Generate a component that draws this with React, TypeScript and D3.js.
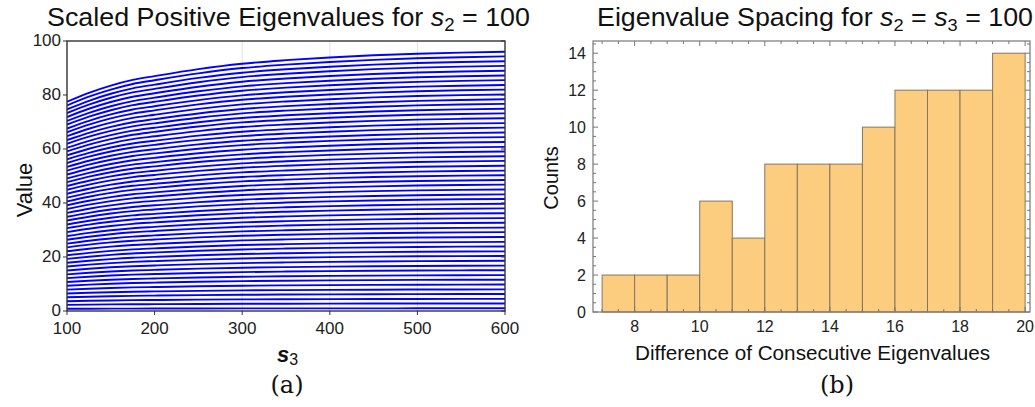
import React from "react";
import * as d3 from "d3";

// ---------- Data ----------
// Panel (a): eigenvalue at s3 = 600 for each curve
const endValues = [
  1.0, 2.8, 4.5, 6.3, 8.0, 9.8, 11.6, 13.3, 15.1, 16.8, 18.6, 20.4, 22.1, 23.9,
  25.6, 27.4, 29.2, 30.9, 32.7, 34.4, 36.2, 38.0, 39.7, 41.5, 43.2, 45.0, 46.8,
  48.5, 50.3, 52.0, 53.8, 55.6, 57.3, 59.1, 60.8, 62.6, 64.4, 66.1, 67.9, 69.6,
  71.4, 73.2, 74.9, 76.7, 78.4, 80.2, 82.0, 83.7, 85.5, 87.2, 89.0, 90.8, 92.5,
  94.3, 96.0,
];
// sampled s3 positions and the top curve read at them (other curves share its shape)
const s3Samples = [100, 125, 150, 175, 200, 250, 300, 350, 400, 450, 500, 550, 600];
const topCurve = [77.5, 80.8, 83.5, 85.6, 87.0, 89.6, 91.6, 92.9, 93.9, 94.7, 95.3, 95.7, 96.0];
const xTicksA = [100, 200, 300, 400, 500, 600];
const yTicksA = [0, 20, 40, 60, 80, 100];

// Panel (b): histogram of spacings
const binStarts = [7, 8, 9, 10, 11, 12, 13, 14, 15, 16, 17, 18, 19];
const binCounts = [2, 2, 2, 6, 4, 8, 8, 8, 10, 12, 12, 12, 14];
const xTicksB = [8, 10, 12, 14, 16, 18, 20];
const yTicksB = [0, 2, 4, 6, 8, 10, 12, 14];

const SANS = "'Liberation Sans', Arial, Helvetica, sans-serif";
const SERIF = "'DejaVu Serif', 'Liberation Serif', serif";

function PanelA() {
  const x = d3.scaleLinear().domain([100, 600]).range([67, 505]);
  const y = d3.scaleLinear().domain([0, 100]).range([311, 41]);
  const topEnd = topCurve[topCurve.length - 1];
  const line = d3
    .line<[number, number]>()
    .x((d) => x(d[0]))
    .y((d) => y(d[1]))
    .curve(d3.curveMonotoneX);
  return (
    <g>
      <text
        x={47}
        y={26}
        fontFamily={SANS}
        fontSize={26}
        fill="#111"
        textLength={483}
        lengthAdjust="spacingAndGlyphs"
      >
        Scaled Positive Eigenvalues for <tspan fontStyle="italic">s</tspan>
        <tspan fontSize={18} dy={5}>2</tspan>
        <tspan dy={-5}> = 100</tspan>
      </text>
      <clipPath id="clipA">
        <rect x={67} y={41} width={438} height={270} />
      </clipPath>
      <g clipPath="url(#clipA)">
        {endValues.map((ev, i) => {
          const pts: [number, number][] = s3Samples.map((s, j) => [s, (topCurve[j] / topEnd) * ev]);
          return <path key={i} d={line(pts) || ""} fill="none" stroke="#0000ff" strokeWidth={1.9} />;
        })}
        {[300, 400, 500].map((t) => (
          <line key={t} x1={x(t)} x2={x(t)} y1={41} y2={311} stroke="#000" strokeOpacity={0.12} strokeWidth={1} />
        ))}
      </g>
      <rect x={67} y={41} width={438} height={270} fill="none" stroke="#333" strokeWidth={1.4} />
      {yTicksA.map((t) => (
        <g key={t}>
          <line x1={63} x2={67} y1={y(t)} y2={y(t)} stroke="#333" strokeWidth={1} />
          <line x1={501} x2={505} y1={y(t)} y2={y(t)} stroke="#333" strokeWidth={1} />
          <text x={61} y={y(t) + 5} fontFamily={SANS} fontSize={17} textAnchor="end" fill="#222">
            {t}
          </text>
        </g>
      ))}
      {xTicksA.map((t) => (
        <g key={t}>
          <line x1={x(t)} x2={x(t)} y1={311} y2={315} stroke="#333" strokeWidth={1} />
          <text x={x(t)} y={334} fontFamily={SANS} fontSize={17} textAnchor="middle" fill="#222">
            {t}
          </text>
        </g>
      ))}
      <text
        transform="translate(32,190) rotate(-90)"
        fontFamily={SANS}
        fontSize={22}
        textAnchor="middle"
        fill="#111"
      >
        Value
      </text>
      <text x={277} y={362} fontFamily={SANS} fontSize={22} fontStyle="italic" fontWeight="bold" fill="#111">
        s<tspan fontSize={16} dy={3} fontStyle="normal" fontWeight="normal">3</tspan>
      </text>
      <text x={287} y={393} fontFamily={SERIF} fontSize={24} textAnchor="middle" fill="#111">
        (a)
      </text>
    </g>
  );
}

function PanelB() {
  const L = 593, R = 1030, T = 41, B = 312;
  const x = d3.scaleLinear().domain([6.72, 20.15]).range([L, R]);
  const y = d3.scaleLinear().domain([0, 14.66]).range([B, T]);
  const minorX = d3.range(7, 20.01, 0.5).filter((v) => v % 2 !== 0);
  const minorY = d3.range(0, 14.51, 0.5).filter((v) => v % 2 !== 0);
  const tc = "#777";
  return (
    <g>
      <text
        x={597}
        y={26}
        fontFamily={SANS}
        fontSize={25}
        fill="#111"
        textLength={436}
        lengthAdjust="spacingAndGlyphs"
      >
        Eigenvalue Spacing for <tspan fontStyle="italic">s</tspan>
        <tspan fontSize={17} dy={5}>2</tspan>
        <tspan dy={-5}> = </tspan>
        <tspan fontStyle="italic">s</tspan>
        <tspan fontSize={17} dy={5}>3</tspan>
        <tspan dy={-5}> = 100</tspan>
      </text>
      {binStarts.map((b, i) => (
        <rect
          key={b}
          x={x(b)}
          y={y(binCounts[i])}
          width={x(b + 1) - x(b)}
          height={y(0) - y(binCounts[i])}
          fill="#fccd7e"
          stroke="#857660"
          strokeWidth={1}
        />
      ))}
      <rect x={L} y={T} width={R - L} height={B - T} fill="none" stroke={tc} strokeWidth={1.2} />
      {xTicksB.map((t) => (
        <g key={t}>
          <line x1={x(t)} x2={x(t)} y1={B} y2={B - 5} stroke={tc} />
          <line x1={x(t)} x2={x(t)} y1={T} y2={T + 5} stroke={tc} />
          <text x={x(t)} y={332} fontFamily={SANS} fontSize={16} textAnchor="middle" fill="#222">
            {t}
          </text>
        </g>
      ))}
      {minorX.map((t) => (
        <g key={t}>
          <line x1={x(t)} x2={x(t)} y1={B} y2={B - 3} stroke={tc} />
          <line x1={x(t)} x2={x(t)} y1={T} y2={T + 3} stroke={tc} />
        </g>
      ))}
      {yTicksB.map((t) => (
        <g key={t}>
          <line x1={L} x2={L + 5} y1={y(t)} y2={y(t)} stroke={tc} />
          <line x1={R} x2={R - 5} y1={y(t)} y2={y(t)} stroke={tc} />
          <text x={586} y={y(t) + 5.5} fontFamily={SANS} fontSize={16} textAnchor="end" fill="#222">
            {t}
          </text>
        </g>
      ))}
      {minorY.map((t) => (
        <g key={t}>
          <line x1={L} x2={L + 3} y1={y(t)} y2={y(t)} stroke={tc} />
          <line x1={R} x2={R - 3} y1={y(t)} y2={y(t)} stroke={tc} />
        </g>
      ))}
      <text
        transform="translate(558,178) rotate(-90)"
        fontFamily={SANS}
        fontSize={20}
        textAnchor="middle"
        fill="#111"
      >
        Counts
      </text>
      <text
        x={635}
        y={360}
        fontFamily={SANS}
        fontSize={20}
        fill="#111"
        textLength={355}
        lengthAdjust="spacingAndGlyphs"
      >
        Difference of Consecutive Eigenvalues
      </text>
      <text x={837} y={393} fontFamily={SERIF} fontSize={24} textAnchor="middle" fill="#111">
        (b)
      </text>
    </g>
  );
}

export default function App() {
  return (
    <svg
      width={1035}
      height={407}
      viewBox="0 0 1035 407"
      style={{ position: "absolute", left: 0, top: 0, background: "#fff" }}
    >
      <rect width={1035} height={407} fill="#fff" />
      <PanelA />
      <PanelB />
    </svg>
  );
}
